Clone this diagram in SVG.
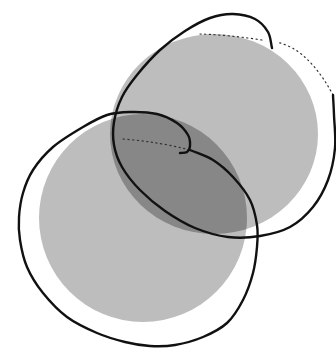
<svg xmlns="http://www.w3.org/2000/svg" width="336" height="350" viewBox="0 0 336 350">
<style>
.fill-light{fill:#bdbdbd}
.fill-dark{fill:#878787}
.outline{fill:none;stroke:#111;stroke-width:2.4;stroke-linecap:round;stroke-linejoin:round}
.dots{fill:none;stroke:#333;stroke-width:1.2;stroke-dasharray:1.2 3.5;stroke-linecap:round}
</style>
<defs>
<clipPath id="clipUpper"><ellipse cx="214" cy="134" rx="104" ry="100"/></clipPath>
</defs>
<rect width="336" height="350" fill="#ffffff"/>
<g id="disc-upper"><ellipse class="fill-light" cx="214" cy="134" rx="104" ry="100"/></g>
<g id="disc-lower"><circle class="fill-light" cx="143" cy="218" r="104"/></g>
<g id="disc-overlap" clip-path="url(#clipUpper)"><circle class="fill-dark" cx="143" cy="218" r="104"/></g>
<g id="dotted-lines">
<path class="dots" d="M333,95 C325,80 315,65 300,53 C292,47 284,44 277,42"/>
<path class="dots" d="M123,139 Q160,142 190,150"/>
<path class="dots" d="M200,34 Q230,35 262,40"/>
</g>
<g id="outline-upper">
<path class="outline" d="M272,48 C270.7,42.7 270.8,36.8 268,32 C265.2,27.2 260.8,22 255,19 C249.2,16 240.5,14.2 233,14 C225.5,13.8 218,15.2 210,18 C202,20.8 193.3,25.7 185,31 C176.7,36.3 168,42.7 160,50 C152,57.3 143.3,67.2 137,75 C130.7,82.8 125.8,89.2 122,97 C118.2,104.8 115.3,114 114,122 C112.7,130 112.7,137.5 114,145 C115.3,152.5 117.7,159.5 122,167 C126.3,174.5 132.8,182.7 140,190 C147.2,197.3 155.8,204.7 165,211 C174.2,217.3 184.5,223.7 195,228 C205.5,232.3 217.2,235.7 228,237 C238.8,238.3 249.7,237.7 260,236 C270.3,234.3 281.2,231.8 290,227 C298.8,222.2 306.7,214.8 313,207 C319.3,199.2 324.3,189.8 328,180 C331.7,170.2 334,158.8 335,148 C336,137.2 334.3,123.8 334,115 C333.7,106.2 333.3,101.7 333,95"/>
</g>
<g id="outline-lower">
<path class="outline" d="M180,153 C182.3,152.7 185.3,153.2 187,152 C188.7,150.8 189.8,148.8 190,146 C190.2,143.2 190.2,138.8 188,135 C185.8,131.2 182.2,126.5 177,123 C171.8,119.5 164.8,115.8 157,114 C149.2,112.2 138.3,111.8 130,112 C121.7,112.2 114.8,112.5 107,115 C99.2,117.5 92,121.7 83,127 C74,132.3 61.3,139.8 53,147 C44.7,154.2 38,162.3 33,170 C28,177.7 25.3,185.2 23,193 C20.7,200.8 19.5,209.2 19,217 C18.5,224.8 18.7,231.7 20,240 C21.3,248.3 23.2,258.2 27,267 C30.8,275.8 36.3,284.7 43,293 C49.7,301.3 58,310.3 67,317 C76,323.7 87.3,328.8 97,333 C106.7,337.2 116.2,339.8 125,342 C133.8,344.2 141.7,345.5 150,346 C158.3,346.5 166.2,346.5 175,345 C183.8,343.5 194.3,340.7 203,337 C211.7,333.3 220.3,329.2 227,323 C233.7,316.8 238.7,308.3 243,300 C247.3,291.7 250.7,281.8 253,273 C255.3,264.2 256.3,255 257,247 C257.7,239 258.2,232.8 257,225 C255.8,217.2 254,208 250,200 C246,192 239.2,183.7 233,177 C226.8,170.3 220.2,164.5 213,160 C205.8,155.5 197.7,153.3 190,150"/>
</g>
</svg>
